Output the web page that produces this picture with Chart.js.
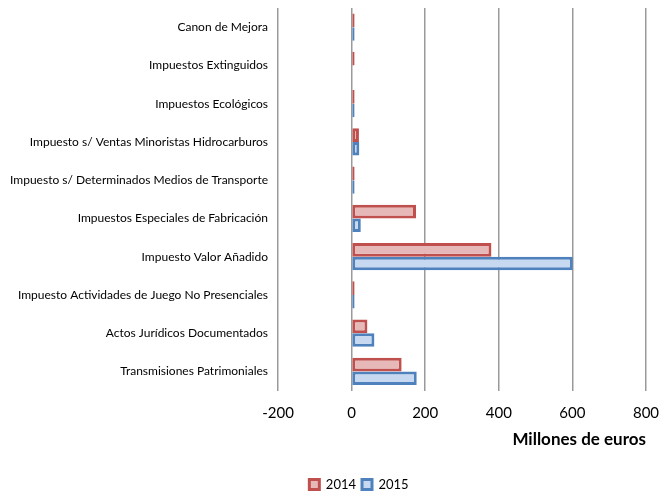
<!DOCTYPE html>
<html>
<head>
<meta charset="utf-8">
<script src="https://cdn.jsdelivr.net/npm/chart.js@4.4.1/dist/chart.umd.min.js"></script>
<style>
  html, body { margin: 0; padding: 0; background: #ffffff; }
  #wrap { width: 664px; height: 496px; position: relative; }
</style>
</head>
<body>
<div id="wrap"><canvas id="c" width="664" height="496"></canvas></div>
<script>
const categories = [
  "Canon de Mejora",
  "Impuestos Extinguidos",
  "Impuestos Ecológicos",
  "Impuesto s/ Ventas Minoristas Hidrocarburos",
  "Impuesto s/ Determinados Medios de Transporte",
  "Impuestos Especiales de Fabricación",
  "Impuesto Valor Añadido",
  "Impuesto Actividades de Juego No Presenciales",
  "Actos Jurídicos Documentados",
  "Transmisiones Patrimoniales"
];
const values2014 = [4, 2, 3, 20, 4, 175, 380, 1, 43, 136];
const values2015 = [3, null, 4, 21, 3, 25, 601, 1, 62, 177];
const seriesLabels = ["2014", "2015"];
const xTicks = [-200, 0, 200, 400, 600, 800];

const FONT = "Lato, 'Open Sans', sans-serif";

const legendShift = {
  id: 'legendShift',
  afterLayout(chart) {
    const lg = chart.legend;
    if (lg) { lg.left += 36; lg.right += 36; lg.top += 5; lg.bottom += 5; }
  }
};

new Chart(document.getElementById('c'), {
  type: 'bar',
  data: {
    labels: categories,
    datasets: [
      {
        label: seriesLabels[0],
        data: values2014,
        backgroundColor: '#E6B9B8',
        borderColor: '#C0504D',
        borderWidth: 3,
        borderSkipped: false,
        minBarLength: 3,
        categoryPercentage: 0.71,
        barPercentage: 1.0
      },
      {
        label: seriesLabels[1],
        data: values2015,
        backgroundColor: '#C6D9F1',
        borderColor: '#4F81BD',
        borderWidth: 3,
        borderSkipped: false,
        minBarLength: 3,
        categoryPercentage: 0.71,
        barPercentage: 1.0
      }
    ]
  },
  options: {
    indexAxis: 'y',
    responsive: false,
    animation: false,
    devicePixelRatio: 1,
    layout: { padding: { top: 8, right: 18, bottom: 0, left: 0 } },
    plugins: {
      legend: {
        position: 'bottom',
        labels: {
          font: { family: FONT, size: 13 },
          color: '#000000',
          boxWidth: 10,
          boxHeight: 10,
          padding: 6
        }
      },
      tooltip: { enabled: false }
    },
    scales: {
      x: {
        type: 'linear',
        min: xTicks[0],
        max: xTicks[xTicks.length - 1],
        afterBuildTicks(scale) { scale.ticks = xTicks.map(v => ({ value: v })); },
        afterFit(scale) { scale.height = 76.5; scale.paddingLeft = 0; scale.paddingRight = 0; },
        ticks: {
          font: { family: FONT, size: 15 },
          color: '#000000',
          padding: 14
        },
        grid: { color: '#9a9a9a', lineWidth: 1.5, drawTicks: false },
        border: { display: false },
        title: {
          display: true,
          text: 'Millones de euros',
          align: 'end',
          font: { family: FONT, size: 17, weight: 'bold' },
          color: '#000000',
          padding: { top: 4, bottom: 17 }
        }
      },
      y: {
        afterFit(scale) { scale.width = 278; scale.paddingTop = 0; scale.paddingBottom = 0; },
        ticks: {
          font: { family: FONT, size: 12 },
          color: '#000000',
          padding: 10,
          autoSkip: false
        },
        grid: { display: false, drawTicks: false },
        border: { display: false }
      }
    }
  },
  plugins: [legendShift]
});
</script>
</body>
</html>
